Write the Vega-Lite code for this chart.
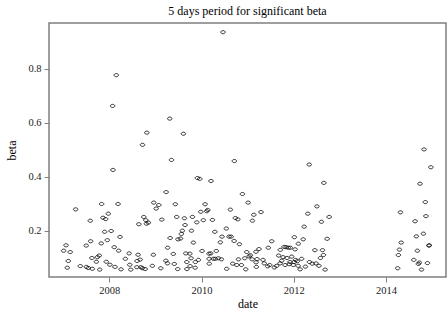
{
  "$schema": "https://vega.github.io/schema/vega-lite/v6.json",
  "width": 397,
  "height": 254,
  "autosize": {"type": "none"},
  "padding": {"left": 49, "top": 23, "right": 2, "bottom": 40},
  "background": "white",
  "title": {"text": "5 days period for significant beta", "font": "Liberation Serif", "fontSize": 12, "fontWeight": "normal", "color": "#000", "anchor": "middle", "offset": 5},
  "config": {
    "view": {"stroke": "#7f7f7f", "strokeWidth": 1.5},
    "axis": {"labelFont": "Liberation Serif", "titleFont": "Liberation Serif", "labelFontSize": 10.5, "titleFontSize": 12, "titleFontWeight": "normal", "labelColor": "#222", "titleColor": "#000", "domain": false, "grid": false, "tickColor": "#7f7f7f", "tickSize": 5, "tickWidth": 1}
  },
  "data": {"values": [
    {"date": "2007-01-04", "beta": 0.127}, {"date": "2007-01-23", "beta": 0.147}, {"date": "2007-02-10", "beta": 0.089}, {"date": "2007-02-02", "beta": 0.064}, {"date": "2007-02-25", "beta": 0.122},
    {"date": "2007-04-09", "beta": 0.280}, {"date": "2007-05-16", "beta": 0.070}, {"date": "2007-07-02", "beta": 0.146}, {"date": "2007-07-03", "beta": 0.067}, {"date": "2007-07-18", "beta": 0.063},
    {"date": "2007-08-03", "beta": 0.238}, {"date": "2007-08-06", "beta": 0.162}, {"date": "2007-08-16", "beta": 0.100}, {"date": "2007-08-19", "beta": 0.060}, {"date": "2007-09-20", "beta": 0.086},
    {"date": "2007-09-28", "beta": 0.103}, {"date": "2007-10-13", "beta": 0.109}, {"date": "2007-10-17", "beta": 0.057}, {"date": "2007-10-29", "beta": 0.154}, {"date": "2007-11-01", "beta": 0.300},
    {"date": "2007-11-12", "beta": 0.249}, {"date": "2007-11-25", "beta": 0.197}, {"date": "2007-12-03", "beta": 0.244}, {"date": "2007-12-08", "beta": 0.086}, {"date": "2007-12-16", "beta": 0.166},
    {"date": "2007-12-24", "beta": 0.264}, {"date": "2008-01-06", "beta": 0.075}, {"date": "2008-01-16", "beta": 0.200}, {"date": "2008-01-27", "beta": 0.663}, {"date": "2008-01-30", "beta": 0.426},
    {"date": "2008-02-09", "beta": 0.140}, {"date": "2008-02-15", "beta": 0.067}, {"date": "2008-02-25", "beta": 0.777}, {"date": "2008-03-10", "beta": 0.300}, {"date": "2008-03-15", "beta": 0.127},
    {"date": "2008-03-26", "beta": 0.178}, {"date": "2008-04-03", "beta": 0.058}, {"date": "2008-05-07", "beta": 0.097}, {"date": "2008-06-06", "beta": 0.117}, {"date": "2008-06-11", "beta": 0.075},
    {"date": "2008-06-19", "beta": 0.057}, {"date": "2008-08-06", "beta": 0.066}, {"date": "2008-08-08", "beta": 0.089}, {"date": "2008-08-16", "beta": 0.112}, {"date": "2008-08-22", "beta": 0.225},
    {"date": "2008-09-01", "beta": 0.094}, {"date": "2008-09-07", "beta": 0.066}, {"date": "2008-09-19", "beta": 0.062}, {"date": "2008-09-20", "beta": 0.519}, {"date": "2008-09-30", "beta": 0.252},
    {"date": "2008-10-11", "beta": 0.059}, {"date": "2008-10-16", "beta": 0.240}, {"date": "2008-10-21", "beta": 0.227}, {"date": "2008-10-24", "beta": 0.564}, {"date": "2008-11-06", "beta": 0.231},
    {"date": "2008-12-07", "beta": 0.071}, {"date": "2008-12-15", "beta": 0.112}, {"date": "2008-12-18", "beta": 0.305}, {"date": "2009-01-06", "beta": 0.283}, {"date": "2009-01-27", "beta": 0.296},
    {"date": "2009-02-12", "beta": 0.062}, {"date": "2009-02-20", "beta": 0.242}, {"date": "2009-03-24", "beta": 0.090}, {"date": "2009-03-26", "beta": 0.344}, {"date": "2009-04-06", "beta": 0.080},
    {"date": "2009-04-07", "beta": 0.138}, {"date": "2009-04-24", "beta": 0.616}, {"date": "2009-04-27", "beta": 0.174}, {"date": "2009-05-08", "beta": 0.463}, {"date": "2009-05-22", "beta": 0.115},
    {"date": "2009-05-30", "beta": 0.078}, {"date": "2009-06-07", "beta": 0.299}, {"date": "2009-06-18", "beta": 0.252}, {"date": "2009-06-26", "beta": 0.059}, {"date": "2009-06-28", "beta": 0.169},
    {"date": "2009-07-18", "beta": 0.172}, {"date": "2009-07-25", "beta": 0.189}, {"date": "2009-08-02", "beta": 0.201}, {"date": "2009-08-10", "beta": 0.560}, {"date": "2009-08-18", "beta": 0.247},
    {"date": "2009-08-23", "beta": 0.222}, {"date": "2009-08-29", "beta": 0.117}, {"date": "2009-09-06", "beta": 0.085}, {"date": "2009-09-07", "beta": 0.059}, {"date": "2009-09-30", "beta": 0.116},
    {"date": "2009-10-02", "beta": 0.070}, {"date": "2009-10-10", "beta": 0.099}, {"date": "2009-10-13", "beta": 0.201}, {"date": "2009-10-21", "beta": 0.252}, {"date": "2009-10-28", "beta": 0.157},
    {"date": "2009-11-11", "beta": 0.064}, {"date": "2009-11-13", "beta": 0.085}, {"date": "2009-11-24", "beta": 0.232}, {"date": "2009-11-29", "beta": 0.396}, {"date": "2009-12-07", "beta": 0.093},
    {"date": "2009-12-18", "beta": 0.393}, {"date": "2009-12-26", "beta": 0.271}, {"date": "2010-01-05", "beta": 0.126}, {"date": "2010-01-15", "beta": 0.240}, {"date": "2010-01-29", "beta": 0.299},
    {"date": "2010-02-11", "beta": 0.273}, {"date": "2010-02-19", "beta": 0.278}, {"date": "2010-03-01", "beta": 0.116}, {"date": "2010-03-02", "beta": 0.097}, {"date": "2010-03-03", "beta": 0.079},
    {"date": "2010-03-15", "beta": 0.117}, {"date": "2010-03-17", "beta": 0.385}, {"date": "2010-03-28", "beta": 0.241}, {"date": "2010-04-04", "beta": 0.097}, {"date": "2010-04-16", "beta": 0.197},
    {"date": "2010-04-20", "beta": 0.097}, {"date": "2010-04-28", "beta": 0.126}, {"date": "2010-05-14", "beta": 0.099}, {"date": "2010-05-30", "beta": 0.158}, {"date": "2010-06-07", "beta": 0.095},
    {"date": "2010-06-12", "beta": 0.179}, {"date": "2010-06-20", "beta": 0.936}, {"date": "2010-07-16", "beta": 0.209}, {"date": "2010-07-19", "beta": 0.060}, {"date": "2010-08-07", "beta": 0.179},
    {"date": "2010-08-17", "beta": 0.279}, {"date": "2010-08-23", "beta": 0.179}, {"date": "2010-09-05", "beta": 0.079}, {"date": "2010-09-16", "beta": 0.163}, {"date": "2010-09-18", "beta": 0.459},
    {"date": "2010-09-26", "beta": 0.248}, {"date": "2010-10-07", "beta": 0.074}, {"date": "2010-10-15", "beta": 0.243}, {"date": "2010-10-20", "beta": 0.095}, {"date": "2010-10-28", "beta": 0.151},
    {"date": "2010-11-13", "beta": 0.074}, {"date": "2010-11-21", "beta": 0.337}, {"date": "2010-12-09", "beta": 0.099}, {"date": "2010-12-17", "beta": 0.058}, {"date": "2010-12-25", "beta": 0.122},
    {"date": "2011-01-05", "beta": 0.305}, {"date": "2011-01-13", "beta": 0.106}, {"date": "2011-01-23", "beta": 0.110}, {"date": "2011-02-08", "beta": 0.238}, {"date": "2011-02-06", "beta": 0.095},
    {"date": "2011-02-19", "beta": 0.260}, {"date": "2011-03-08", "beta": 0.123}, {"date": "2011-03-09", "beta": 0.084}, {"date": "2011-03-11", "beta": 0.067}, {"date": "2011-03-17", "beta": 0.096},
    {"date": "2011-04-01", "beta": 0.133}, {"date": "2011-04-17", "beta": 0.270}, {"date": "2011-05-03", "beta": 0.093}, {"date": "2011-05-13", "beta": 0.080}, {"date": "2011-06-09", "beta": 0.069},
    {"date": "2011-06-14", "beta": 0.138}, {"date": "2011-06-25", "beta": 0.074}, {"date": "2011-07-11", "beta": 0.162}, {"date": "2011-08-01", "beta": 0.065}, {"date": "2011-08-19", "beta": 0.071},
    {"date": "2011-09-04", "beta": 0.109}, {"date": "2011-09-15", "beta": 0.080}, {"date": "2011-09-17", "beta": 0.130}, {"date": "2011-09-28", "beta": 0.090}, {"date": "2011-10-09", "beta": 0.103},
    {"date": "2011-10-17", "beta": 0.141}, {"date": "2011-10-25", "beta": 0.074}, {"date": "2011-11-02", "beta": 0.140}, {"date": "2011-11-09", "beta": 0.100}, {"date": "2011-11-19", "beta": 0.138},
    {"date": "2011-11-27", "beta": 0.077}, {"date": "2011-12-05", "beta": 0.138}, {"date": "2011-12-03", "beta": 0.085}, {"date": "2011-12-16", "beta": 0.105}, {"date": "2011-12-29", "beta": 0.074},
    {"date": "2012-01-06", "beta": 0.177}, {"date": "2012-01-04", "beta": 0.085}, {"date": "2012-01-12", "beta": 0.132}, {"date": "2012-01-17", "beta": 0.093}, {"date": "2012-01-30", "beta": 0.088},
    {"date": "2012-02-07", "beta": 0.153}, {"date": "2012-02-05", "beta": 0.071}, {"date": "2012-02-21", "beta": 0.058}, {"date": "2012-03-04", "beta": 0.097}, {"date": "2012-03-16", "beta": 0.169},
    {"date": "2012-03-24", "beta": 0.216}, {"date": "2012-04-03", "beta": 0.068}, {"date": "2012-04-22", "beta": 0.264}, {"date": "2012-05-03", "beta": 0.446}, {"date": "2012-05-05", "beta": 0.085},
    {"date": "2012-05-27", "beta": 0.079}, {"date": "2012-06-25", "beta": 0.080}, {"date": "2012-06-17", "beta": 0.129}, {"date": "2012-07-03", "beta": 0.291}, {"date": "2012-07-19", "beta": 0.071},
    {"date": "2012-07-31", "beta": 0.100}, {"date": "2012-08-08", "beta": 0.234}, {"date": "2012-08-16", "beta": 0.129}, {"date": "2012-08-24", "beta": 0.111}, {"date": "2012-08-27", "beta": 0.378},
    {"date": "2012-09-06", "beta": 0.057}, {"date": "2012-09-22", "beta": 0.171}, {"date": "2012-10-08", "beta": 0.252},
    {"date": "2014-04-04", "beta": 0.062}, {"date": "2014-04-10", "beta": 0.111}, {"date": "2014-04-18", "beta": 0.131}, {"date": "2014-04-26", "beta": 0.269}, {"date": "2014-05-02", "beta": 0.157},
    {"date": "2014-08-10", "beta": 0.093}, {"date": "2014-08-20", "beta": 0.236}, {"date": "2014-08-30", "beta": 0.180}, {"date": "2014-09-07", "beta": 0.127}, {"date": "2014-09-15", "beta": 0.078},
    {"date": "2014-09-23", "beta": 0.083}, {"date": "2014-09-28", "beta": 0.375}, {"date": "2014-10-10", "beta": 0.057}, {"date": "2014-10-25", "beta": 0.190}, {"date": "2014-10-30", "beta": 0.502},
    {"date": "2014-11-09", "beta": 0.307}, {"date": "2014-11-14", "beta": 0.255}, {"date": "2014-11-26", "beta": 0.081}, {"date": "2014-12-08", "beta": 0.146}, {"date": "2014-12-10", "beta": 0.147},
    {"date": "2014-12-23", "beta": 0.436}
  ]},
  "mark": {"type": "point", "shape": "M-1,0A1,0.7,0,1,0,1,0A1,0.7,0,1,0,-1,0Z", "size": 20, "filled": false, "stroke": "#000", "strokeWidth": 0.8, "opacity": 1},
  "encoding": {
    "x": {"field": "date", "type": "temporal", "title": "date",
      "scale": {"domain": ["2006-09-10", "2015-04-22"], "nice": false},
      "axis": {"values": [{"year": 2008}, {"year": 2010}, {"year": 2012}, {"year": 2014}], "format": "%Y", "labelPadding": 3, "titlePadding": 3, "labelFlush": false}},
    "y": {"field": "beta", "type": "quantitative", "title": "beta",
      "scale": {"domain": [0.0296, 0.970], "nice": false, "zero": false},
      "axis": {"values": [0.2, 0.4, 0.6, 0.8], "format": ".1f", "labelPadding": 3, "titlePadding": 9, "labelFlush": false}}
  }
}
